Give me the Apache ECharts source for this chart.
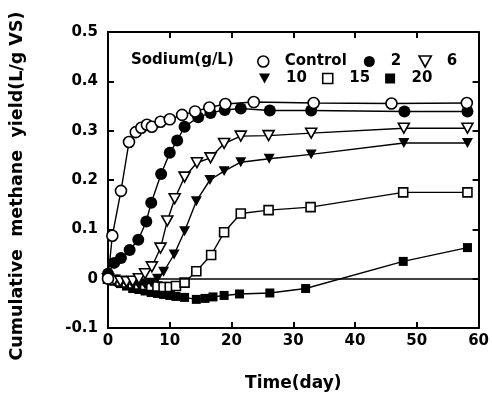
<!DOCTYPE html>
<html>
<head>
<meta charset="utf-8">
<script src="https://cdn.jsdelivr.net/npm/echarts@6/dist/echarts.min.js"></script>
<style>
  html, body { margin: 0; padding: 0; background: #fff; }
  #chart { width: 492px; height: 397px; }
</style>
</head>
<body>
<div id="chart"></div>
<script>
// values (day, L/g VS)
const controlDays = [0, 0.7, 2.1, 3.4, 4.5, 5.4, 6.3, 7.1, 8.5, 10, 12, 14.1, 16.4, 19, 23.6, 33.3, 45.9, 58.1];
const controlYield = [0, 0.087, 0.178, 0.277, 0.297, 0.306, 0.312, 0.308, 0.318, 0.323, 0.332, 0.339, 0.347, 0.354, 0.358, 0.356, 0.355, 0.356];

const na2Days = [0, 1, 2.1, 3.5, 4.9, 6.2, 7, 8.6, 10, 11.2, 12.4, 14.6, 16.6, 18.9, 21.5, 26.2, 32.9, 48, 58.2];
const na2Yield = [0.01, 0.032, 0.042, 0.058, 0.079, 0.116, 0.154, 0.212, 0.255, 0.28, 0.308, 0.327, 0.336, 0.342, 0.345, 0.341, 0.341, 0.339, 0.339];

const na6Days = [0, 1, 2, 3, 4, 5, 6, 7.1, 8.5, 9.6, 10.8, 12.4, 14.4, 16.6, 18.8, 21.5, 26, 32.9, 47.9, 58.2];
const na6Yield = [0, -0.003, -0.005, -0.006, -0.005, 0, 0.01, 0.024, 0.062, 0.117, 0.162, 0.206, 0.235, 0.245, 0.274, 0.289, 0.29, 0.295, 0.305, 0.305];

const na10Days = [0, 1, 2, 3, 4, 5, 6, 7, 8, 9, 10.7, 12.4, 14.3, 16.5, 18.8, 21.5, 26.1, 32.9, 47.9, 58.2];
const na10Yield = [0, -0.004, -0.008, -0.01, -0.012, -0.013, -0.012, -0.008, 0, 0.014, 0.049, 0.096, 0.157, 0.2, 0.218, 0.236, 0.243, 0.252, 0.275, 0.275];

const na15Days = [0, 1, 2, 3, 4, 5, 6, 7, 8, 9, 10, 11, 12.4, 14.3, 16.7, 18.8, 21.5, 26, 32.8, 47.8, 58.2];
const na15Yield = [0, -0.003, -0.006, -0.008, -0.01, -0.012, -0.013, -0.015, -0.016, -0.017, -0.017, -0.015, -0.008, 0.015, 0.048, 0.094, 0.132, 0.139, 0.145, 0.175, 0.175];

const na20Days = [0, 1, 2, 3, 4, 5, 6, 7, 8, 9, 10, 11, 12.4, 14.3, 15.7, 17, 18.8, 21.3, 26.2, 32, 47.8, 58.2];
const na20Yield = [0, -0.005, -0.01, -0.015, -0.02, -0.022, -0.025, -0.028, -0.03, -0.032, -0.034, -0.036, -0.038, -0.042, -0.04, -0.037, -0.034, -0.031, -0.029, -0.02, 0.035, 0.063];

const xTicks = [0, 10, 20, 30, 40, 50, 60];
const yTicks = [-0.1, 0, 0.1, 0.2, 0.3, 0.4, 0.5];

const downTri = 'path://M0,0L20,0L10,18Z';
const square = 'path://M0,0L10,0L10,10L0,10Z';
const font = 'DejaVu Sans';

function pairs(days, vals) {
  return days.map((d, i) => [d, vals[i]]);
}

function makeSeries(name, days, vals, symbol, size, filled, z) {
  return {
    name: name,
    type: 'line',
    data: pairs(days, vals),
    symbol: symbol,
    symbolSize: size,
    symbolKeepAspect: true,
    z: z,
    lineStyle: { color: '#000', width: 1.4 },
    itemStyle: {
      color: filled ? '#000' : '#fff',
      borderColor: '#000',
      borderWidth: filled ? 0 : 1.6
    },
    emphasis: { disabled: true }
  };
}

const chart = echarts.init(document.getElementById('chart'), null, { renderer: 'canvas' });

const series = [
  makeSeries('Control', controlDays, controlYield, 'circle', 11, false, 8),
  makeSeries('2', na2Days, na2Yield, 'circle', 12, true, 7),
  makeSeries('6', na6Days, na6Yield, downTri, 11, false, 6),
  makeSeries('10', na10Days, na10Yield, downTri, 11, true, 5),
  makeSeries('15', na15Days, na15Yield, square, 9, false, 4),
  makeSeries('20', na20Days, na20Yield, square, 9, true, 3)
];

// zero reference line across the plot
series[0].markLine = {
  silent: true,
  symbol: 'none',
  label: { show: false },
  lineStyle: { color: '#000', width: 1.5, type: 'solid' },
  data: [{ yAxis: 0 }]
};

function legendItem(name, icon, filled) {
  return {
    name: name,
    icon: icon,
    itemStyle: {
      color: filled ? '#000' : '#fff',
      borderColor: '#000',
      borderWidth: filled ? 0 : 1.6
    }
  };
}

const legendText = { fontFamily: font, fontWeight: 'bold', fontSize: 15, color: '#000' };

const fmtY = v => {
  const r = Math.round(v * 10) / 10;
  return r === 0 ? '0' : r.toFixed(1);
};

const axisCommonX = {
  type: 'value', min: 0, max: 60, interval: 10,
  axisLine: { show: true, onZero: false, lineStyle: { color: '#000', width: 2 } },
  axisTick: { show: true, inside: true, length: 6, lineStyle: { color: '#000', width: 2 } },
  splitLine: { show: false }
};
const axisCommonY = {
  type: 'value', min: -0.1, max: 0.5, interval: 0.1,
  axisLine: { show: true, onZero: false, lineStyle: { color: '#000', width: 2 } },
  axisTick: { show: true, inside: true, length: 6, lineStyle: { color: '#000', width: 2 } },
  splitLine: { show: false }
};

const option = {
  animation: false,
  backgroundColor: '#fff',
  grid: { left: 107, right: 9, top: 32, bottom: 64, containLabel: false },
  title: {
    text: 'Sodium(g/L)',
    left: 131,
    top: 53,
    textStyle: { fontFamily: font, fontWeight: 'bold', fontSize: 15, color: '#000' },
    padding: 0
  },
  legend: [
    {
      data: [legendItem('Control', 'circle', false), legendItem('2', 'circle', true), legendItem('6', downTri, false)],
      left: 257, top: 54, padding: 0,
      itemWidth: 33, itemHeight: 11, itemGap: 17,
      textStyle: legendText,
      selectedMode: false
    },
    {
      data: [legendItem('10', downTri, true), legendItem('15', square, false), legendItem('20', square, true)],
      left: 259, top: 71, padding: 0,
      itemWidth: 33, itemHeight: 10, itemGap: 15,
      textStyle: legendText,
      selectedMode: false
    }
  ],
  xAxis: [
    Object.assign({}, axisCommonX, {
      position: 'bottom',
      name: 'Time(day)',
      nameLocation: 'middle',
      nameGap: 47,
      nameTextStyle: { fontFamily: font, fontWeight: 'bold', fontSize: 17, color: '#000' },
      axisLabel: {
        margin: 6,
        fontFamily: font, fontWeight: 'bold', fontSize: 15, color: '#000',
        formatter: v => xTicks.includes(v) ? String(v) : ''
      }
    }),
    Object.assign({}, axisCommonX, { position: 'top', axisLabel: { show: false } })
  ],
  yAxis: [
    Object.assign({}, axisCommonY, {
      position: 'left',
      name: 'Cumulative  methane  yield(L/g VS)',
      nameLocation: 'middle',
      nameGap: 82,
      nameTextStyle: { fontFamily: font, fontWeight: 'bold', fontSize: 17.5, color: '#000', padding: [0, 12, 0, 0] },
      axisLabel: {
        margin: 10,
        fontFamily: font, fontWeight: 'bold', fontSize: 15, color: '#000',
        formatter: fmtY
      }
    }),
    Object.assign({}, axisCommonY, { position: 'right', axisLabel: { show: false } })
  ],
  series: series
};

chart.setOption(option);
</script>
</body>
</html>
